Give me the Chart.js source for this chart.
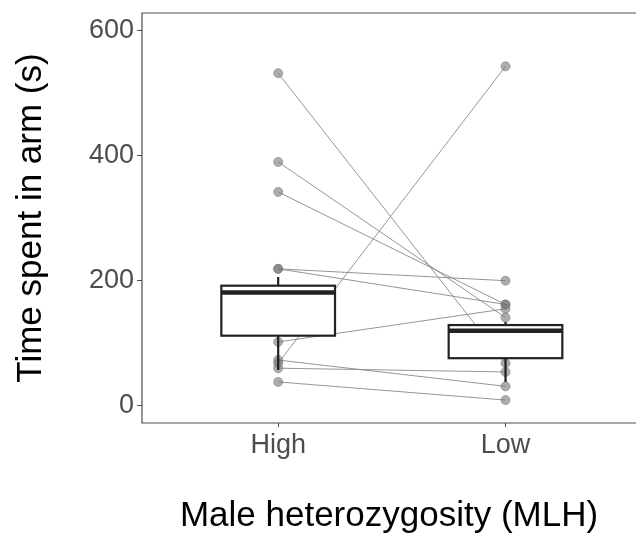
<!DOCTYPE html>
<html>
<head>
<meta charset="utf-8">
<script src="https://cdn.jsdelivr.net/npm/chart.js@4"></script>
<style>
  html, body { margin: 0; padding: 0; background: #fff; overflow: hidden; }
  #wrap { width: 636px; height: 537px; }
</style>
</head>
<body>
<div id="wrap"><canvas id="chart"></canvas></div>
<script>
// paired observations, same male in both arms
const categories = ['High', 'Low']
const highValues = [532, 390, 342, 219, 219, 102, 73, 68, 60, 38]
const lowValues = [68, 141, 162, 200, 162, 155, 31, 543, 54, 9]

// box summaries
const whiskerMin = [57, 38]
const q1 = [112, 76]
const median = [181, 120]
const q3 = [192, 129]
const whiskerMax = [206, 134]

const yTicks = [0, 200, 400, 600]
const FONT = "'Liberation Sans', Arial, sans-serif"

// lines between pairs
let datasets = highValues.map((h, i) => ({
  type: 'line',
  data: [{ x: 1, y: h }, { x: 2, y: lowValues[i] }],
  borderColor: 'rgba(130,130,130,0.85)',
  borderWidth: 1,
  pointRadius: 0,
  order: 2
}))

// points on top of the lines
let points = []
highValues.forEach(v => points.push({ x: 1, y: v }))
lowValues.forEach(v => points.push({ x: 2, y: v }))
datasets.push({
  type: 'scatter',
  data: points,
  backgroundColor: 'rgba(120,120,120,0.6)',
  borderColor: 'rgba(120,120,120,0.6)',
  pointRadius: 4.5,
  order: 1
})

const boxPlugin = {
  id: 'boxes',
  afterDatasetsDraw(chart) {
    const { ctx, scales: { x, y } } = chart
    const half = 0.25
    ctx.save()
    ctx.strokeStyle = '#222'
    categories.forEach((c, i) => {
      const xc = x.getPixelForValue(i + 1)
      const x0 = x.getPixelForValue(i + 1 - half)
      const x1 = x.getPixelForValue(i + 1 + half)
      // whiskers
      ctx.lineWidth = 2.2
      ctx.beginPath()
      ctx.moveTo(xc, y.getPixelForValue(whiskerMax[i]))
      ctx.lineTo(xc, y.getPixelForValue(q3[i]))
      ctx.moveTo(xc, y.getPixelForValue(q1[i]))
      ctx.lineTo(xc, y.getPixelForValue(whiskerMin[i]))
      ctx.stroke()
      // box
      const top = y.getPixelForValue(q3[i])
      const bot = y.getPixelForValue(q1[i])
      ctx.fillStyle = '#fff'
      ctx.fillRect(x0, top, x1 - x0, bot - top)
      ctx.strokeRect(x0, top, x1 - x0, bot - top)
      // median
      ctx.lineWidth = 4.4
      ctx.beginPath()
      ctx.moveTo(x0, y.getPixelForValue(median[i]))
      ctx.lineTo(x1, y.getPixelForValue(median[i]))
      ctx.stroke()
    })
    ctx.restore()
  }
}

const borderPlugin = {
  id: 'panelBorder',
  afterDraw(chart) {
    const { ctx, chartArea: a } = chart
    ctx.save()
    ctx.strokeStyle = '#4d4d4d'
    ctx.lineWidth = 1.2
    ctx.beginPath()
    ctx.moveTo(chart.width, a.top)
    ctx.lineTo(a.left, a.top)
    ctx.lineTo(a.left, a.bottom)
    ctx.lineTo(chart.width, a.bottom)
    ctx.stroke()
    ctx.restore()
  }
}

new Chart(document.getElementById('chart'), {
  data: { datasets: datasets },
  plugins: [boxPlugin, borderPlugin],
  options: {
    responsive: true,
    maintainAspectRatio: false,
    animation: false,
    layout: { autoPadding: false, padding: { top: 13, right: 0, left: 0, bottom: 0 } },
    plugins: {
      legend: { display: false },
      tooltip: { enabled: false }
    },
    scales: {
      x: {
        type: 'linear',
        min: 0.401,
        max: 2.574,
        afterBuildTicks: s => { s.ticks = [{ value: 1 }, { value: 2 }] },
        afterFit: s => {
          s.height = 114
          s.paddingLeft = 0
          s.paddingRight = 0
        },
        grid: { drawOnChartArea: false, tickLength: 4, color: '#4d4d4d' },
        border: { display: false },
        ticks: {
          callback: v => categories[v - 1],
          color: '#4d4d4d',
          font: { family: FONT, size: 27 },
          padding: 2,
          maxRotation: 0
        },
        title: {
          display: true,
          text: 'Male heterozygosity (MLH)',
          color: '#000',
          font: { family: FONT, size: 35 },
          padding: { top: 0, bottom: 0 }
        }
      },
      y: {
        min: -27.7,
        max: 628.3,
        afterBuildTicks: s => { s.ticks = yTicks.map(v => ({ value: v })) },
        afterFit: s => {
          s.width = 142
          s.paddingTop = 0
          s.paddingBottom = 0
        },
        grid: { drawOnChartArea: false, tickLength: 5, color: '#4d4d4d' },
        border: { display: false },
        ticks: {
          color: '#4d4d4d',
          font: { family: FONT, size: 27 },
          padding: 3
        },
        title: {
          display: true,
          text: 'Time spent in arm (s)',
          color: '#000',
          font: { family: FONT, size: 35 },
          padding: { top: 10, bottom: 0 }
        }
      }
    }
  }
})
</script>
</body>
</html>
